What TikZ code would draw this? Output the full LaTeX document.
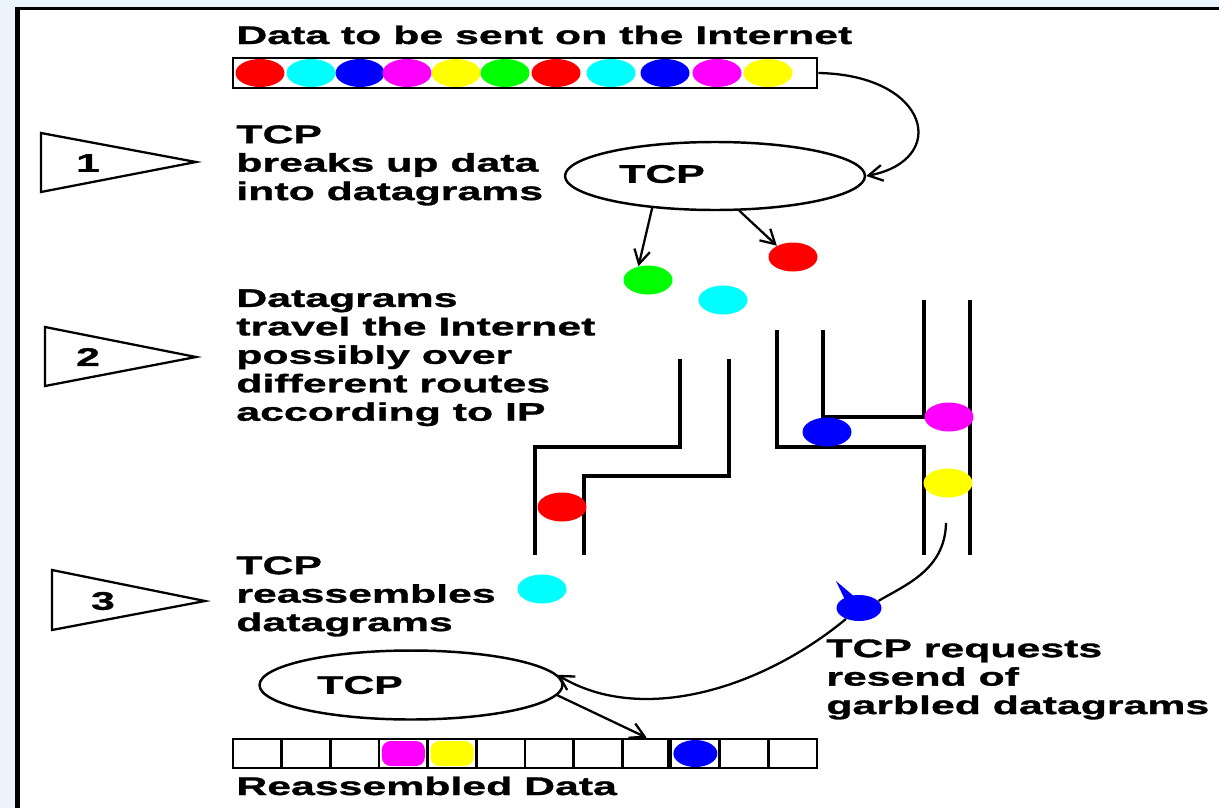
\documentclass[tikz,border=0pt]{standalone}
\usepackage{fontspec}
\newfontfamily\diagfont[FakeStretch=1.68, BoldFeatures={FakeBold=1.2}]{Liberation Sans}
\usetikzlibrary{shapes.geometric,arrows.meta}
\definecolor{nenxanh}{RGB}{235,244,252}
\definecolor{pred}{RGB}{255,0,0}
\definecolor{pcyan}{RGB}{0,255,255}
\definecolor{pblue}{RGB}{0,0,255}
\definecolor{pmagenta}{RGB}{255,0,255}
\definecolor{pyellow}{RGB}{255,255,0}
\definecolor{pgreen}{RGB}{0,255,0}

\begin{document}
\begin{tikzpicture}[
        % --- CÁC THIẾT LẬP CHUNG ---
        x=0.02cm, y=-0.02cm, % 1 đơn vị = 1 điểm ảnh, trục y hướng xuống
        % Chữ đậm, giãn ngang
        txt/.style={
            font=\diagfont\bfseries\fontsize{14.5}{16.2}\selectfont,
            align=left,
            inner sep=0pt
        },
        % Gói dữ liệu (chấm tròn màu)
        packet/.style={
            ellipse,
            fill=#1,
            minimum width=0.98cm,
            minimum height=0.58cm,
            inner sep=0pt
        },
        % Hình ellipse TCP
        tcpbox/.style={
            ellipse,
            draw,
            minimum width=6cm,
            minimum height=1.36cm,
            line width=1.4pt
        },
        % Ô của dữ liệu ghép lại
        cell/.style={
            rectangle,
            draw,
            minimum width=0.973cm,
            minimum height=0.58cm,
            line width=1.5pt
        },
        % Ô đã có gói dữ liệu
        slot/.style={
            rectangle,
            rounded corners=5pt,
            fill=#1,
            minimum width=0.86cm,
            minimum height=0.5cm
        },
        route/.style={line width=2.1pt}, % đường đi trên Internet
        marker/.style={line width=1.3pt}, % tam giác đánh số
        % Mũi tên
        arrow/.style={
            ->,
            line width=1.3pt,
            >={Straight Barb[length=8pt,width=9pt]}
        }
    ]

    % --- NỀN VÀ KHUNG ---
    \useasboundingbox (0,0) rectangle (1219,808);
    \fill[nenxanh] (0,0) rectangle (1219,808);
    \fill[white] (15,7) rectangle (1219,808);
    \fill[black] (15,7) rectangle (20,808);
    \fill[black] (15,7) rectangle (1219,10);

    % --- BƯỚC 0: DỮ LIỆU CẦN GỬI ---
    \node[txt, anchor=base west] (title) at (236,44) {Data to be sent on the Internet};
    \node[draw, line width=1.6pt, minimum width=11.68cm, minimum height=0.6cm, inner sep=0pt] (databar) at (525,73) {};
    \foreach \cx/\col [count=\i] in {260/pred,311/pcyan,360/pblue,407/pmagenta,456/pyellow,505/pgreen,556/pred,611/pcyan,665/pblue,717/pmagenta,768/pyellow}
        \node[packet=\col, minimum height=0.56cm] (p\i) at (\cx,73) {};

    % --- BƯỚC 1: TCP CHIA NHỎ DỮ LIỆU ---
    \draw[marker] (41,133) -- (41,192) -- (196,162) -- cycle;
    \node[txt] (num1) at (88,163) {1};
    \node[txt, anchor=north west] (step1) at (236,125) {TCP\\breaks up data\\into datagrams};

    \node[tcpbox] (tcpA) at (715,176) {};
    \node[txt] (tcpAlabel) at (662,174) {TCP};

    % Các gói vừa tách ra
    \node[packet=pgreen] (pktGreen) at (648,280) {};
    \node[packet=pcyan] (pktCyan) at (723,300) {};
    \node[packet=pred] (pktRed) at (793,257) {};

    \draw[arrow] (databar.east) .. controls (930,75) and (950,160) .. (tcpA.east);
    \draw[arrow] (tcpA.207) -- (pktGreen.125);
    \draw[arrow] (tcpA.305) -- (pktRed.145);

    % --- BƯỚC 2: CÁC GÓI ĐI THEO NHIỀU ĐƯỜNG ---
    \draw[marker] (45,327) -- (45,386) -- (196,357) -- cycle;
    \node[txt] (num2) at (88,357) {2};
    \node[txt, anchor=north west] (step2) at (236,289) {Datagrams\\travel the Internet\\possibly over\\different routes\\according to IP};

    % Đường bên trái
    \draw[route] (680,359) -- (680,447) -- (535,447) -- (535,555);
    \draw[route] (729,359) -- (729,476) -- (584,476) -- (584,555);
    % Đường bên phải
    \draw[route] (777,330) -- (777,447) -- (924,447) -- (924,555);
    \draw[route] (823,330) -- (823,417) -- (924,417) -- (924,300);
    \draw[route] (970,300) -- (970,555);

    \node[packet=pred] (pktRedRoute) at (562,507) {};
    \node[packet=pblue] (pktBlue) at (827,432) {};
    \node[packet=pmagenta] (pktMagenta) at (949,417) {};
    \node[packet=pyellow] (pktYellow) at (948,483) {};

    % --- BƯỚC 3: TCP GHÉP LẠI ---
    \draw[marker] (52,570) -- (52,630) -- (205,601) -- cycle;
    \node[txt] (num3) at (103,601) {3};
    \node[txt, anchor=north west] (step3) at (236,556) {TCP\\reassembles\\datagrams};

    \node[packet=pcyan] (pktCyanLate) at (542,589) {};

    \node[tcpbox, minimum width=6.06cm, minimum height=1.38cm] (tcpB) at (411,685) {};
    \node[txt] (tcpBlabel) at (360,685) {TCP};

    % Gói bị hỏng, yêu cầu gửi lại
    \coordinate (resend) at (946,523);
    \node[packet=pblue, minimum width=0.9cm, minimum height=0.52cm] (splat) at (859,608) {};
    \fill[pblue] (836,581) -- (856,598) -- (846,602) -- cycle; % vết bắn
    \draw[line width=1.3pt] (resend) .. controls (945,570) and (905,585) .. (splat.20);
    \draw[arrow] (splat.220) .. controls (760,690) and (640,725) .. (tcpB.4);
    \node[txt, anchor=north west] (resendtext) at (826,639) {TCP requests\\resend of\\garbled datagrams};

    % Dữ liệu đã ghép lại
    \foreach \i in {1,...,12}
        \node[cell] (cell\i) at ({233+48.67*(\i-0.5)},753.5) {};
    \node[slot=pmagenta] at (cell4) {};
    \node[slot=pyellow] at (cell5) {};
    \node[packet=pblue, minimum width=0.88cm, minimum height=0.54cm] at (cell10) {};
    \draw[line width=2.8pt] (cell10.north west) -- (cell10.south west);

    \draw[arrow] (tcpB.-4) -- (cell9.north);
    \node[txt, anchor=base west] (result) at (236,795) {Reassembled Data};

    \end{tikzpicture}
\end{document}
